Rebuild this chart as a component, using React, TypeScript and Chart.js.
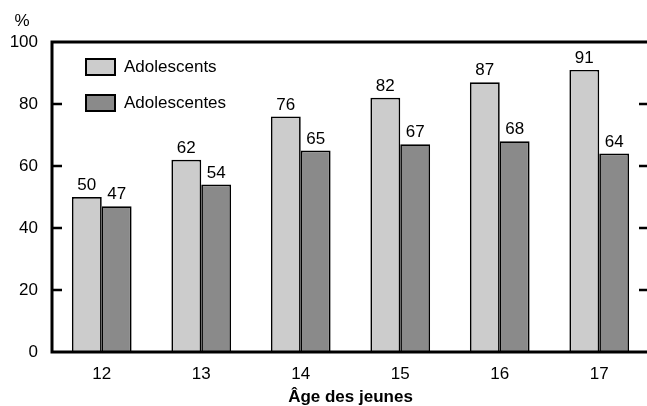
import React, { useEffect, useRef } from "react";
import { Chart, registerables } from "chart.js";

Chart.register(...registerables);

const categories = ["12", "13", "14", "15", "16", "17"];
const boys = [50, 62, 76, 82, 87, 91];
const girls = [47, 54, 65, 67, 68, 64];
const seriesNames = ["Adolescents", "Adolescentes"];
const seriesColors = ["#cccccc", "#8a8a8a"];
const yTicks = [0, 20, 40, 60, 80, 100];
const xTitle = "Âge des jeunes";
const yUnit = "%";

const FONT = '"Liberation Sans", Arial, sans-serif';

const decorPlugin = {
  id: "decor",
  afterDatasetsDraw(chart: any) {
    const ctx = chart.ctx as CanvasRenderingContext2D;
    const { left, right, top, bottom } = chart.chartArea;
    const yScale = chart.scales.y;
    ctx.save();
    // value labels
    ctx.fillStyle = "#000";
    ctx.font = `17px ${FONT}`;
    ctx.textAlign = "center";
    ctx.textBaseline = "bottom";
    chart.data.datasets.forEach((ds: any, di: number) => {
      const meta = chart.getDatasetMeta(di);
      meta.data.forEach((el: any, i: number) => {
        ctx.fillText(String(ds.data[i]), el.x, el.y - 3);
      });
    });
    // frame
    ctx.strokeStyle = "#000";
    ctx.lineWidth = 3;
    ctx.strokeRect(left, top, right - left, bottom - top);
    // inward tick marks
    ctx.lineWidth = 2.5;
    yTicks.forEach((v) => {
      if (v === 0 || v === 100) return;
      const y = yScale.getPixelForValue(v);
      ctx.beginPath();
      ctx.moveTo(left, y);
      ctx.lineTo(left + 10, y);
      ctx.moveTo(right, y);
      ctx.lineTo(right - 10, y);
      ctx.stroke();
    });
    // legend
    ctx.font = `17px ${FONT}`;
    ctx.textAlign = "left";
    ctx.textBaseline = "middle";
    seriesNames.forEach((name, i) => {
      const bx = left + 34;
      const by = top + 17 + i * 36;
      ctx.fillStyle = seriesColors[i];
      ctx.fillRect(bx, by, 29, 16);
      ctx.lineWidth = 2;
      ctx.strokeStyle = "#000";
      ctx.strokeRect(bx, by, 29, 16);
      ctx.fillStyle = "#000";
      ctx.fillText(name, bx + 38, by + 8);
    });
    // unit
    ctx.textAlign = "center";
    ctx.fillText(yUnit, 22, 21);
    ctx.restore();
  },
};

export default function App() {
  const ref = useRef<HTMLCanvasElement>(null);
  useEffect(() => {
    if (!ref.current) return;
    const chart = new Chart(ref.current, {
      type: "bar",
      data: {
        labels: categories,
        datasets: [
          {
            label: seriesNames[0],
            data: boys,
            backgroundColor: seriesColors[0],
            borderColor: "#000",
            borderWidth: 1.7,
            categoryPercentage: 0.6,
            barPercentage: 1,
          },
          {
            label: seriesNames[1],
            data: girls,
            backgroundColor: seriesColors[1],
            borderColor: "#000",
            borderWidth: 1.7,
            categoryPercentage: 0.6,
            barPercentage: 1,
          },
        ],
      },
      options: {
        responsive: false,
        animation: false,
        devicePixelRatio: 1,
        layout: { padding: { left: 0, top: 42, right: 21, bottom: 0 } },
        plugins: { legend: { display: false }, tooltip: { enabled: false } },
        scales: {
          x: {
            grid: { display: false, drawTicks: false },
            border: { display: false },
            ticks: { color: "#000", font: { family: FONT, size: 17 }, padding: 12 },
            title: {
              display: true,
              text: xTitle,
              color: "#000",
              font: { family: FONT, size: 17, weight: "bold", lineHeight: 1 },
              padding: 0,
            },
            afterFit: (s: any) => {
              s.height = 54;
            },
          },
          y: {
            min: 0,
            max: 100,
            afterBuildTicks: (s: any) => {
              s.ticks = yTicks.map((v) => ({ value: v }));
            },
            grid: { display: false, drawTicks: false },
            border: { display: false },
            ticks: { color: "#000", font: { family: FONT, size: 17 }, padding: 14 },
            afterFit: (s: any) => {
              s.width = 52;
            },
          },
        },
      },
      plugins: [decorPlugin],
    });
    return () => chart.destroy();
  }, []);
  return (
    <div style={{ position: "fixed", left: 0, top: 0, width: 670, height: 406, background: "#fff" }}>
      <canvas ref={ref} width={670} height={406} />
    </div>
  );
}
